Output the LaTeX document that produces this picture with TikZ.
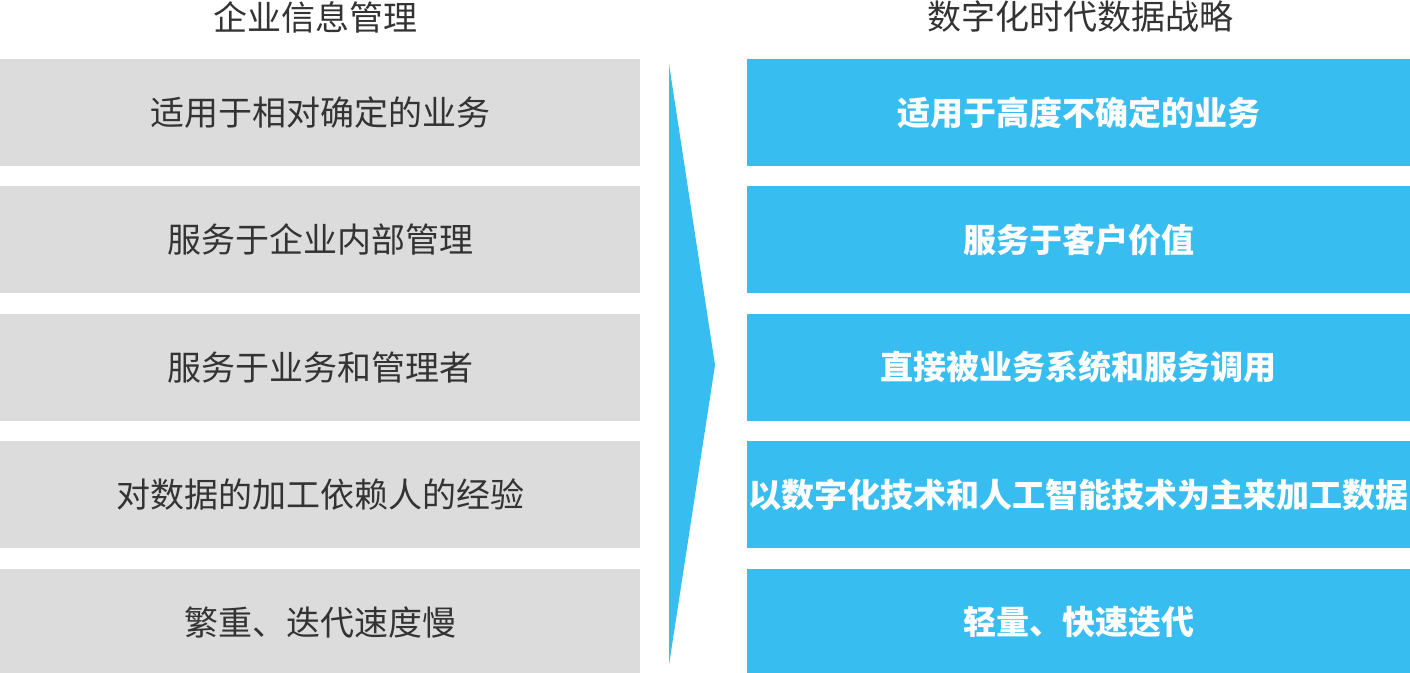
\documentclass[tikz,border=0pt]{standalone}
\usepackage{fontspec}
\setmainfont{Noto Sans CJK SC}
\usetikzlibrary{positioning}
\definecolor{oldgray}{HTML}{DCDCDC}
\definecolor{newblue}{HTML}{38BDF0}
\definecolor{oldtext}{HTML}{333333}

\begin{document}
\begin{tikzpicture}[x=1pt, y=-1pt, font=\fontsize{34}{40}\selectfont,
  oldbox/.style={rectangle, fill=oldgray, text=oldtext, inner sep=0pt, minimum width=640pt, minimum height=107pt},
  newbox/.style={rectangle, fill=newblue, text=white, inner sep=0pt, minimum width=663pt, minimum height=107pt, font=\fontsize{33}{40}\selectfont\bfseries},
  title/.style={text=oldtext, inner sep=0pt}]
\useasboundingbox (0,0) rectangle (1410,672);
% column titles
\node[title] (oldtitle) at (315,17) {企业信息管理};
\node[title] (newtitle) at (1080,17) {数字化时代数据战略};
% left column
\node[oldbox] (old1) at (320,112.5) {适用于相对确定的业务};
\node[oldbox, below=20pt of old1] (old2) {服务于企业内部管理};
\node[oldbox, below=20pt of old2] (old3) {服务于业务和管理者};
\node[oldbox, below=20pt of old3] (old4) {对数据的加工依赖人的经验};
\node[oldbox, below=20pt of old4] (old5) {繁重、迭代速度慢};
% right column
\node[newbox, right=107pt of old1] (new1) {适用于高度不确定的业务};
\node[newbox, right=107pt of old2] (new2) {服务于客户价值};
\node[newbox, right=107pt of old3] (new3) {直接被业务系统和服务调用};
\node[newbox, right=107pt of old4] (new4) {以数字化技术和人工智能技术为主来加工数据};
\node[newbox, right=107pt of old5] (new5) {轻量、快速迭代};
% arrow between columns
\coordinate (arrtop) at (669,64);
\coordinate (arrtip) at (715,365);
\coordinate (arrbot) at (669,665);
\fill[newblue] (arrtop) -- (arrtip) -- (arrbot) -- cycle;
\end{tikzpicture}
\end{document}
